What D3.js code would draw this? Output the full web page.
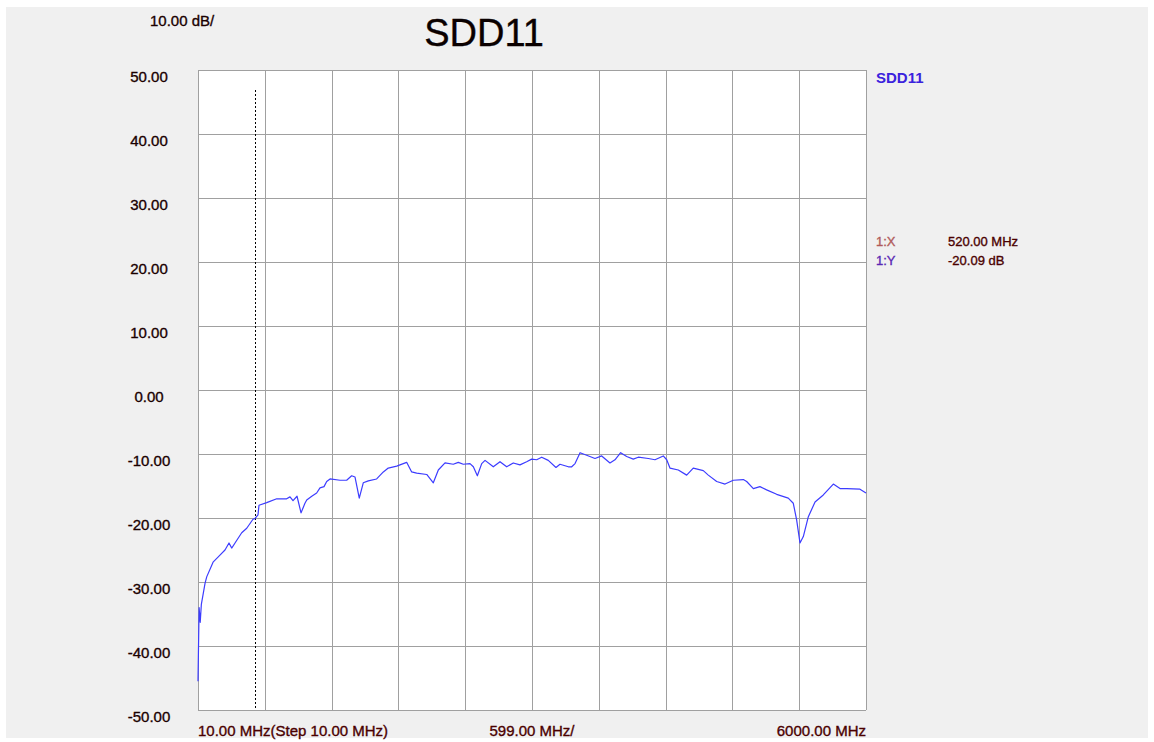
<!DOCTYPE html>
<html>
<head>
<meta charset="utf-8">
<script src="https://cdn.jsdelivr.net/npm/d3@7"></script>
<style>
  html, body { margin: 0; padding: 0; background: #ffffff; }
  svg { display: block; font-family: "Liberation Sans", Arial, sans-serif; }
  svg text { stroke-width: 0.35px; }
</style>
</head>
<body>
<div id="chart"></div>
<script>
// values
const freqMHz = [10, 20, 30, 40, 73, 88, 145, 207, 252, 288, 312, 342, 402, 447, 503, 520, 548, 557,
  626, 716, 805, 835, 862, 898, 934, 969, 985, 1030, 1074, 1104, 1140, 1164, 1194, 1283, 1343,
  1388, 1418, 1456, 1492, 1537, 1612, 1672, 1716, 1792, 1821, 1881, 1926, 1971, 2061, 2120,
  2165, 2225, 2299, 2344, 2389, 2449, 2479, 2515, 2554, 2584, 2658, 2718, 2778, 2837, 2897,
  2957, 3002, 3047, 3092, 3151, 3220, 3256, 3331, 3361, 3391, 3436, 3495, 3570, 3630, 3704,
  3749, 3800, 3854, 3913, 3958, 4048, 4108, 4182, 4213, 4242, 4317, 4392, 4451, 4541, 4586,
  4661, 4736, 4810, 4900, 4930, 4990, 5049, 5109, 5199, 5303, 5348, 5378, 5408, 5438, 5483,
  5543, 5617, 5707, 5767, 5827, 5946, 6000];
const sdd11 = [-45.5, -34.0, -36.3, -33.5, -30.2, -29.2, -26.9, -25.8, -25.0, -23.9, -24.7, -23.9, -22.3, -21.6, -20.2, -20.09, -19.5, -18.0,
  -17.6, -17.0, -17.0, -16.7, -17.3, -16.6, -19.2, -17.7, -17.2, -16.6, -16.1, -15.3, -15.1, -14.3, -13.9, -14.1, -14.1,
  -13.4, -13.6, -16.9, -14.5, -14.2, -13.9, -12.8, -12.2, -11.9, -11.7, -11.3, -12.8, -13.0, -13.2, -14.5,
  -12.5, -11.4, -11.6, -11.3, -11.6, -11.5, -12.0, -13.4, -11.5, -11.0, -12.0, -11.2, -12.0, -11.4, -11.7,
  -11.2, -10.8, -10.9, -10.5, -11.0, -12.1, -11.6, -12.0, -12.0, -11.5, -9.8, -10.2, -10.7, -10.3, -11.4,
  -10.9, -9.8, -10.4, -10.8, -10.5, -10.7, -10.9, -10.3, -10.9, -12.2, -12.5, -13.3, -12.2, -12.6, -13.3,
  -14.3, -14.7, -14.1, -14.0, -14.3, -15.4, -15.1, -15.6, -16.3, -16.9, -17.7, -20.3, -23.9, -22.9, -19.8,
  -17.5, -16.4, -14.7, -15.4, -15.4, -15.5, -16.1];

const yTicks = [50, 40, 30, 20, 10, 0, -10, -20, -30, -40, -50];
const yTickLabels = ["50.00", "40.00", "30.00", "20.00", "10.00", "0.00", "-10.00", "-20.00", "-30.00", "-40.00", "-50.00"];
const xGrid = [10, 609, 1208, 1807, 2406, 3005, 3604, 4203, 4802, 5401, 6000];

const markerFreq = 520;
const markerLabels = ["1:X", "1:Y"];
const markerValues = ["520.00 MHz", "-20.09 dB"];

let width = 1154;
let height = 742;

let plotLeft = 198, plotRight = 866, plotTop = 70, plotBottom = 710;

let svg = d3.select("#chart")
    .append("svg")
    .attr("width", width)
    .attr("height", height);

svg.append("rect")
    .attr("x", 6).attr("y", 7)
    .attr("width", 1142).attr("height", 731)
    .attr("fill", "#f0f0f0");

let x = d3.scaleLinear().domain([10, 6000]).range([plotLeft, plotRight]);
let y = d3.scaleLinear().domain([-50, 50]).range([plotBottom, plotTop]);

// plot area
svg.append("rect")
    .attr("x", plotLeft).attr("y", plotTop)
    .attr("width", plotRight - plotLeft).attr("height", plotBottom - plotTop)
    .attr("fill", "#ffffff");

// grid
svg.append("g")
    .selectAll("line")
    .data(xGrid)
    .enter().append("line")
    .attr("x1", d => Math.round(x(d)) + 0.5)
    .attr("x2", d => Math.round(x(d)) + 0.5)
    .attr("y1", plotTop).attr("y2", plotBottom)
    .attr("stroke", "#a0a0a0")
    .attr("stroke-width", 1);

svg.append("g")
    .selectAll("line")
    .data(yTicks)
    .enter().append("line")
    .attr("y1", d => Math.round(y(d)) + 0.5)
    .attr("y2", d => Math.round(y(d)) + 0.5)
    .attr("x1", plotLeft).attr("x2", plotRight)
    .attr("stroke", "#a0a0a0")
    .attr("stroke-width", 1);

// y labels
svg.append("g")
    .selectAll("text")
    .data(yTicks)
    .enter().append("text")
    .attr("x", 149)
    .attr("y", d => y(d) + 12)
    .attr("text-anchor", "middle")
    .style("font-size", "15px")
    .attr("fill", "#1a0000")
    .attr("stroke", "#1a0000")
    .text((d, i) => yTickLabels[i]);

// marker line
svg.append("line")
    .attr("x1", Math.round(x(markerFreq)) + 0.5)
    .attr("x2", Math.round(x(markerFreq)) + 0.5)
    .attr("y1", 90).attr("y2", plotBottom)
    .attr("stroke", "#000")
    .attr("stroke-width", 1)
    .attr("stroke-dasharray", "2,2");

// trace
let line = d3.line()
    .x((d, i) => x(freqMHz[i]))
    .y(d => y(d));

svg.append("path")
    .datum(sdd11)
    .attr("fill", "none")
    .attr("stroke", "#3c3cff")
    .attr("stroke-width", 1.2)
    .attr("stroke-linejoin", "round")
    .attr("d", line);

// header texts
svg.append("text")
    .attr("x", 150).attr("y", 26)
    .style("font-size", "15px")
    .attr("fill", "#1a0000")
    .attr("stroke", "#1a0000")
    .text("10.00 dB/");

svg.append("text")
    .attr("x", 484).attr("y", 46)
    .attr("text-anchor", "middle")
    .style("font-size", "38px")
    .attr("fill", "#0a0000")
    .attr("stroke", "#0a0000")
    .text("SDD11");

svg.append("text")
    .attr("x", 876).attr("y", 83)
    .style("font-size", "15px")
    .style("font-weight", "bold")
    .attr("fill", "#3a22dd")
    .text("SDD11");

// marker readout
let markerColors = ["#b05a5a", "#5a28b4"];
for (let i = 0; i < markerLabels.length; i++) {
    svg.append("text")
        .attr("x", 876).attr("y", 246 + i * 19)
        .style("font-size", "13px")
        .attr("fill", markerColors[i])
        .attr("stroke", markerColors[i])
        .text(markerLabels[i]);
    svg.append("text")
        .attr("x", 948).attr("y", 246 + i * 19)
        .style("font-size", "13px")
        .attr("fill", "#4a0000")
        .attr("stroke", "#4a0000")
        .text(markerValues[i]);
}

// x labels
let xLabelColor = "#4a0000";

svg.append("text")
    .attr("x", plotLeft).attr("y", 736)
    .style("font-size", "15px")
    .attr("fill", xLabelColor)
    .attr("stroke", xLabelColor)
    .text("10.00 MHz(Step 10.00 MHz)");

svg.append("text")
    .attr("x", 532).attr("y", 736)
    .attr("text-anchor", "middle")
    .style("font-size", "15px")
    .attr("fill", xLabelColor)
    .attr("stroke", xLabelColor)
    .text("599.00 MHz/");

svg.append("text")
    .attr("x", plotRight).attr("y", 736)
    .attr("text-anchor", "end")
    .style("font-size", "15px")
    .attr("fill", xLabelColor)
    .attr("stroke", xLabelColor)
    .text("6000.00 MHz");
</script>
</body>
</html>
